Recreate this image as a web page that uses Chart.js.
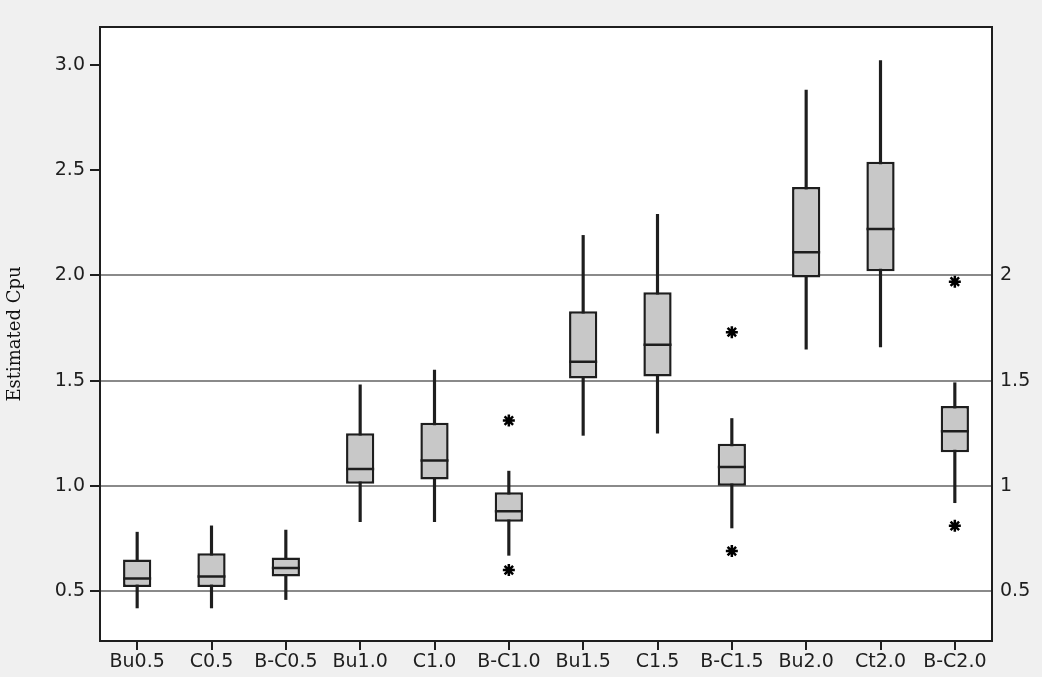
<!DOCTYPE html>
<html>
<head>
<meta charset="utf-8">
<script src="https://cdn.jsdelivr.net/npm/chart.js@4"></script>
<style>
  body { margin: 0; background: #f0f0f0; }
  #wrap { width: 1042px; height: 677px; }
</style>
</head>
<body>
<div id="wrap"><canvas id="chart"></canvas></div>
<script>
// box plot values
const categories = ['Bu0.5', 'C0.5', 'B-C0.5', 'Bu1.0', 'C1.0', 'B-C1.0', 'Bu1.5', 'C1.5', 'B-C1.5', 'Bu2.0', 'Ct2.0', 'B-C2.0'];
const whiskerLow  = [0.42, 0.42, 0.46, 0.83, 0.83, 0.67, 1.24, 1.25, 0.80, 1.65, 1.66, 0.92];
const q1          = [0.52, 0.52, 0.57, 1.01, 1.03, 0.83, 1.51, 1.52, 1.00, 1.99, 2.02, 1.16];
const median      = [0.56, 0.57, 0.61, 1.08, 1.12, 0.88, 1.59, 1.67, 1.09, 2.11, 2.22, 1.26];
const q3          = [0.65, 0.68, 0.66, 1.25, 1.30, 0.97, 1.83, 1.92, 1.20, 2.42, 2.54, 1.38];
const whiskerHigh = [0.78, 0.81, 0.79, 1.48, 1.55, 1.07, 2.19, 2.29, 1.32, 2.88, 3.02, 1.49];
const outlierCats = ['B-C1.0', 'B-C1.0', 'B-C1.5', 'B-C1.5', 'B-C2.0', 'B-C2.0'];
const outlierVals = [1.31, 0.60, 1.73, 0.69, 1.97, 0.81];
const leftTicks  = [0.5, 1.0, 1.5, 2.0, 2.5, 3.0];
const refLines   = [0.5, 1, 1.5, 2];

const yMin = 0.263, yMax = 3.18;
const ink = '#1e1e1e';
const tickFont = { family: 'DejaVu Sans', size: 19 };

// white plot area + black frame
const frame = {
  id: 'frame',
  beforeDraw(chart) {
    const { ctx, chartArea: a } = chart;
    ctx.save();
    ctx.fillStyle = '#ffffff';
    ctx.fillRect(a.left, a.top, a.right - a.left, a.bottom - a.top);
    ctx.restore();
  },
  afterDraw(chart) {
    const { ctx, chartArea: a } = chart;
    ctx.save();
    ctx.strokeStyle = ink;
    ctx.lineWidth = 2;
    ctx.strokeRect(a.left, a.top, a.right - a.left, a.bottom - a.top);
    ctx.restore();
  }
};

new Chart(document.getElementById('chart'), {
  type: 'bar',
  data: {
    labels: categories,
    datasets: [
      {
        label: 'median',
        type: 'line',
        data: median,
        showLine: false,
        pointStyle: 'line',
        pointRadius: 14,
        pointBorderWidth: 2.5,
        borderColor: ink,
        order: 0
      },
      {
        label: 'outliers',
        type: 'line',
        data: outlierCats.map((c, i) => ({ x: c, y: outlierVals[i] })),
        showLine: false,
        pointStyle: 'star',
        pointRadius: 6,
        pointBorderWidth: 2.5,
        borderColor: '#000',
        order: 0
      },
      {
        label: 'box',
        data: categories.map((c, i) => [q1[i], q3[i]]),
        backgroundColor: '#c8c8c8',
        borderColor: ink,
        borderWidth: 2.5,
        borderSkipped: false,
        grouped: false,
        barPercentage: 0.38,
        categoryPercentage: 1,
        order: 1
      },
      {
        label: 'whisker',
        data: categories.map((c, i) => [whiskerLow[i], whiskerHigh[i]]),
        backgroundColor: ink,
        borderWidth: 0,
        grouped: false,
        barThickness: 2.5,
        order: 2
      }
    ]
  },
  options: {
    responsive: true,
    maintainAspectRatio: false,
    animation: false,
    layout: { padding: { top: 27 } },
    plugins: {
      legend: { display: false },
      tooltip: { enabled: false }
    },
    scales: {
      x: {
        offset: true,
        border: { display: false },
        grid: { offset: false, drawOnChartArea: false, tickLength: 9, color: ink, lineWidth: 2 },
        ticks: { color: ink, font: tickFont, padding: 1, maxRotation: 0, autoSkip: false },
        afterFit(scale) { scale.height = 36; }
      },
      y: {
        position: 'left',
        min: yMin,
        max: yMax,
        border: { display: false },
        grid: { drawOnChartArea: false, tickLength: 10, color: ink, lineWidth: 2 },
        afterBuildTicks(scale) { scale.ticks = leftTicks.map(v => ({ value: v })); },
        ticks: { color: ink, font: tickFont, padding: 5, callback: v => v.toFixed(1) },
        title: {
          display: true,
          text: 'Estimated Cpu',
          color: '#111',
          font: { family: 'DejaVu Serif', size: 18 },
          padding: { top: 5, bottom: 0 }
        },
        afterFit(scale) { scale.width = 100; }
      },
      y2: {
        position: 'right',
        min: yMin,
        max: yMax,
        border: { display: false },
        grid: { drawTicks: false, color: '#8a8a8a', lineWidth: 2 },
        afterBuildTicks(scale) { scale.ticks = refLines.map(v => ({ value: v })); },
        ticks: { color: ink, font: tickFont, padding: 8, callback: v => String(v) },
        afterFit(scale) { scale.width = 50; }
      }
    }
  },
  plugins: [frame]
});
</script>
</body>
</html>
